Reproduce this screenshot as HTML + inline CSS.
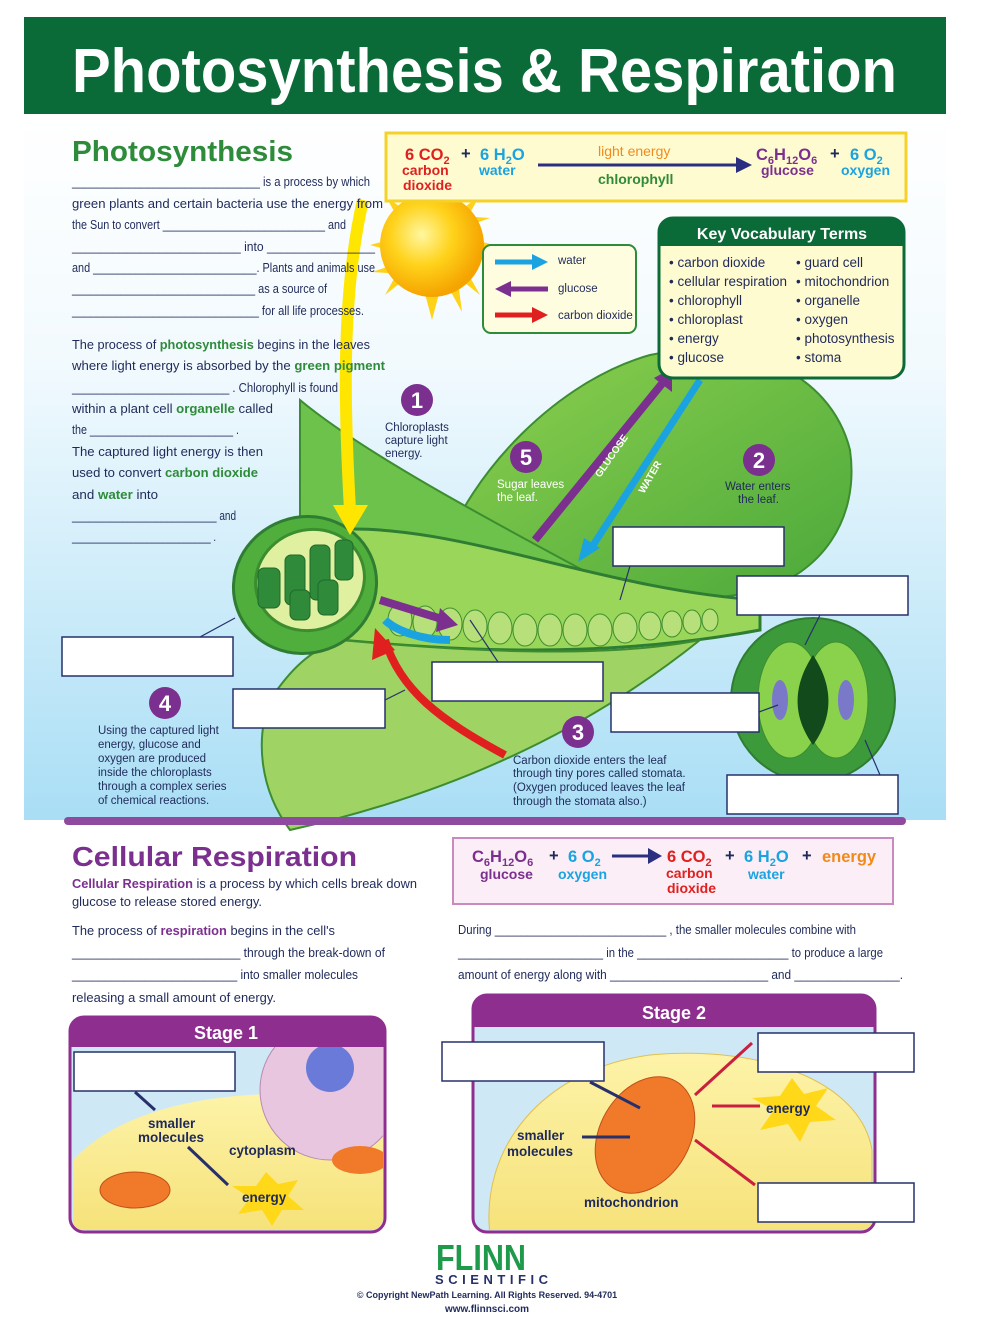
<!DOCTYPE html>
<html><head><meta charset="utf-8"><style>
body{margin:0;width:1002px;height:1340px;background:#fff;overflow:hidden;font-family:"Liberation Sans",sans-serif}
svg{display:block}
text{font-family:"Liberation Sans",sans-serif}
</style></head><body>
<svg width="1002" height="1340" viewBox="0 0 1002 1340">
<defs>
<linearGradient id="sky" x1="0" y1="0" x2="0" y2="1">
<stop offset="0" stop-color="#fff"/><stop offset="0.35" stop-color="#f2fafe"/><stop offset="1" stop-color="#a9def5"/></linearGradient>
<radialGradient id="sun" cx="0.4" cy="0.4" r="0.6"><stop offset="0" stop-color="#fff7a0"/><stop offset="0.5" stop-color="#ffd21a"/><stop offset="1" stop-color="#f5a300"/></radialGradient>
<linearGradient id="leafA" x1="0" y1="0" x2="1" y2="1"><stop offset="0" stop-color="#8fd14f"/><stop offset="1" stop-color="#4aa83a"/></linearGradient>
<linearGradient id="cyto" x1="0" y1="0" x2="0" y2="1"><stop offset="0" stop-color="#fdf3a8"/><stop offset="1" stop-color="#f6e27a"/></linearGradient>
<clipPath id="c1"><rect x="72" y="1019" width="311" height="211" rx="12"/></clipPath>
<clipPath id="c2"><rect x="475" y="997" width="398" height="233" rx="12"/></clipPath>
</defs>
<rect x="24" y="114" width="922" height="706" fill="url(#sky)"/>
<rect x="24" y="17" width="922" height="97" fill="#0b6b38"/>
<text x="72" y="92" fill="#fff" font-size="62" font-weight="bold" font-family="DejaVu Sans" textLength="825" lengthAdjust="spacingAndGlyphs">Photosynthesis &amp; Respiration</text>

<!-- sun -->
<g fill="#ffd21a">
<polygon points="432,170 440,200 424,200"/><polygon points="370,245 400,237 400,253"/><polygon points="494,245 464,237 464,253"/>
<polygon points="432,320 440,290 424,290"/><polygon points="385,195 410,215 400,222"/><polygon points="480,295 455,275 465,268"/>
<polygon points="385,295 410,275 400,268"/><polygon points="480,195 455,215 465,222"/>
<polygon points="405,180 420,208 408,210"/><polygon points="462,312 446,283 458,281"/><polygon points="372,272 402,262 404,274"/><polygon points="490,218 462,228 460,216"/>
</g>
<circle cx="432" cy="245" r="52" fill="url(#sun)"/>

<!-- back leaf -->
<path d="M440,560 C470,470 560,380 650,355 C740,335 830,370 850,450 C860,520 820,575 760,590 C680,610 560,600 440,560Z" fill="url(#leafA)" stroke="#3c8d2f" stroke-width="2"/>
<path d="M300,400 C360,450 470,510 620,590 L560,610 C470,600 360,560 300,530Z" fill="#6cc24a" stroke="#3c8d2f" stroke-width="2"/>
<path d="M330,530 C450,520 600,590 760,600 L760,630 C600,660 450,650 340,640Z" fill="#9ad65a" stroke="#2e7d32" stroke-width="3"/>
<g fill="#b7e07a" stroke="#3f8f2f">
<ellipse cx="400" cy="620" rx="12" ry="16"/><ellipse cx="425" cy="622" rx="12" ry="16"/><ellipse cx="450" cy="624" rx="12" ry="16"/><ellipse cx="475" cy="626" rx="12" ry="16"/><ellipse cx="500" cy="628" rx="12" ry="16"/><ellipse cx="525" cy="630" rx="12" ry="16"/><ellipse cx="550" cy="630" rx="12" ry="16"/><ellipse cx="575" cy="630" rx="12" ry="16"/><ellipse cx="600" cy="630" rx="12" ry="16"/><ellipse cx="625" cy="628" rx="12" ry="15"/><ellipse cx="650" cy="626" rx="11" ry="14"/><ellipse cx="672" cy="624" rx="10" ry="13"/><ellipse cx="692" cy="622" rx="9" ry="12"/><ellipse cx="710" cy="620" rx="8" ry="11"/>
</g>
<path d="M340,640 C450,650 600,660 700,640 C600,720 470,790 290,830 C260,790 255,740 270,700 C290,670 310,650 340,640Z" fill="#9fd464" stroke="#3c8d2f" stroke-width="2"/>
<ellipse cx="305" cy="585" rx="72" ry="68" fill="#4fae3c" stroke="#2e7d32" stroke-width="3" transform="rotate(-20 305 585)"/>
<ellipse cx="310" cy="580" rx="55" ry="50" fill="#dff0a0" stroke="#3c8d2f" stroke-width="3" transform="rotate(-20 310 580)"/>
<g fill="#2f8a3a" stroke="#1f6a2a">
<rect x="258" y="568" width="22" height="40" rx="6"/><rect x="285" y="555" width="20" height="50" rx="6"/><rect x="310" y="545" width="20" height="55" rx="6"/><rect x="335" y="540" width="18" height="40" rx="6"/><rect x="290" y="590" width="20" height="30" rx="6"/><rect x="318" y="580" width="20" height="35" rx="6"/>
</g>
<circle cx="813" cy="700" r="82" fill="#3c9a3a" stroke="#2e7d32" stroke-width="2"/>
<ellipse cx="790" cy="700" rx="32" ry="58" fill="#8ad14c" stroke="#3c8d2f"/>
<ellipse cx="836" cy="700" rx="32" ry="58" fill="#8ad14c" stroke="#3c8d2f"/>
<ellipse cx="780" cy="700" rx="8" ry="20" fill="#7a78c8"/><ellipse cx="846" cy="700" rx="8" ry="20" fill="#7a78c8"/>
<path d="M813,655 C790,690 795,720 813,745 C831,720 836,690 813,655Z" fill="#134a1c"/>

<path d="M363,200 C340,300 345,420 350,510" stroke="#ffe600" stroke-width="12" fill="none"/>
<polygon points="333,505 368,505 350,535" fill="#ffe600"/>
<path d="M535,540 L665,380" stroke="#7b2f8f" stroke-width="8" fill="none"/><polygon points="672,368 654,378 672,392" fill="#7b2f8f"/>
<path d="M700,380 L590,550" stroke="#1aa3e0" stroke-width="7" fill="none"/><polygon points="578,562 584,538 600,548" fill="#1aa3e0"/>
<path d="M380,600 L445,620" stroke="#7b2f8f" stroke-width="8"/><polygon points="458,625 440,608 436,632" fill="#7b2f8f"/>
<path d="M450,640 C420,640 395,630 385,620" stroke="#1aa3e0" stroke-width="8" fill="none"/>
<path d="M505,755 C440,720 400,690 385,640" stroke="#e0201e" stroke-width="8" fill="none"/><polygon points="375,628 372,660 395,650" fill="#e0201e"/>

<g fill="#7b2f8f"><circle cx="417" cy="400" r="16"/><circle cx="526" cy="457" r="16"/><circle cx="759" cy="460" r="16"/><circle cx="165" cy="703" r="16"/><circle cx="578" cy="732" r="16"/></g>
<g fill="#fff" font-size="22" font-weight="bold" text-anchor="middle"><text x="417" y="408">1</text><text x="526" y="465">5</text><text x="759" y="468">2</text><text x="165" y="711">4</text><text x="578" y="740">3</text></g>
<g fill="#1f2a5a" font-size="11.5">
<text x="385" y="431">Chloroplasts</text><text x="385" y="444">capture light</text><text x="385" y="457">energy.</text>
<text x="497" y="488" fill="#fff">Sugar leaves</text><text x="497" y="501" fill="#fff">the leaf.</text>
<text x="725" y="490">Water enters</text><text x="738" y="503">the leaf.</text>
<text x="98" y="734">Using the captured light</text><text x="98" y="748">energy, glucose and</text><text x="98" y="762">oxygen are produced</text><text x="98" y="776">inside the chloroplasts</text><text x="98" y="790">through a complex series</text><text x="98" y="804">of chemical reactions.</text>
<text x="513" y="764">Carbon dioxide enters the leaf</text><text x="513" y="777">through tiny pores called stomata.</text><text x="513" y="791">(Oxygen produced leaves the leaf</text><text x="513" y="805">through the stomata also.)</text>
</g>
<text x="600" y="478" fill="#fff" font-size="10" font-weight="bold" transform="rotate(-55 600 478)">GLUCOSE</text>
<text x="644" y="494" fill="#fff" font-size="10" font-weight="bold" transform="rotate(-60 644 494)">WATER</text>

<g fill="#fff" stroke="#27306b" stroke-width="1.5">
<rect x="613" y="527" width="171" height="39"/><rect x="737" y="576" width="171" height="39"/><rect x="62" y="637" width="171" height="39"/><rect x="432" y="662" width="171" height="39"/><rect x="233" y="689" width="152" height="39"/><rect x="611" y="693" width="148" height="39"/><rect x="727" y="775" width="171" height="39"/>
</g>
<g stroke="#27306b" stroke-width="1.2"><line x1="200" y1="637" x2="235" y2="618"/><line x1="630" y1="566" x2="620" y2="600"/><line x1="498" y1="662" x2="470" y2="620"/><line x1="385" y1="700" x2="405" y2="690"/><line x1="759" y1="712" x2="778" y2="705"/><line x1="820" y1="615" x2="805" y2="645"/><line x1="880" y1="775" x2="865" y2="740"/></g>

<rect x="483" y="245" width="153" height="88" rx="8" fill="#fffde0" stroke="#2e8b3a" stroke-width="2"/>
<g stroke-width="5"><line x1="495" y1="262" x2="535" y2="262" stroke="#1aa3e0"/><line x1="505" y1="289" x2="548" y2="289" stroke="#7b2f8f"/><line x1="495" y1="315" x2="535" y2="315" stroke="#e0201e"/></g>
<polygon points="548,262 532,254 532,270" fill="#1aa3e0"/><polygon points="495,289 511,281 511,297" fill="#7b2f8f"/><polygon points="548,315 532,307 532,323" fill="#e0201e"/>
<g font-size="11.5" fill="#1f2a5a"><text x="558" y="264">water</text><text x="558" y="292">glucose</text><text x="558" y="319">carbon dioxide</text></g>

<rect x="386" y="133" width="520" height="68" fill="#fffbd0" stroke="#f5d22a" stroke-width="3"/>
<g font-size="16.5" font-weight="bold">
<text x="405" y="160" fill="#e0201e">6 CO<tspan font-size="11" dy="4">2</tspan></text>
<text x="461" y="159" fill="#1f2a5a">+</text>
<text x="480" y="160" fill="#1aa3e0">6 H<tspan font-size="11" dy="4">2</tspan><tspan dy="-4">O</tspan></text>
<text x="756" y="160" fill="#7b2f8f">C<tspan font-size="11" dy="4">6</tspan><tspan dy="-4">H</tspan><tspan font-size="11" dy="4">12</tspan><tspan dy="-4">O</tspan><tspan font-size="11" dy="4">6</tspan></text>
<text x="830" y="159" fill="#1f2a5a">+</text>
<text x="850" y="160" fill="#1aa3e0">6 O<tspan font-size="11" dy="4">2</tspan></text>
</g>
<g font-size="14" font-weight="bold">
<text x="402" y="175" fill="#e0201e">carbon</text><text x="403" y="190" fill="#e0201e">dioxide</text>
<text x="479" y="175" fill="#1aa3e0">water</text>
<text x="598" y="156" fill="#f28a1a" font-weight="normal">light energy</text>
<text x="598" y="184" fill="#2e8b3a">chlorophyll</text>
<text x="761" y="175" fill="#7b2f8f">glucose</text><text x="841" y="175" fill="#1aa3e0">oxygen</text>
</g>
<line x1="538" y1="165" x2="740" y2="165" stroke="#2a2f80" stroke-width="3"/><polygon points="752,165 736,157 736,173" fill="#2a2f80"/>

<rect x="659" y="218" width="245" height="160" rx="14" fill="#fffbd0" stroke="#0b6b38" stroke-width="3"/>
<path d="M659,246 L659,232 Q659,218 673,218 L890,218 Q904,218 904,232 L904,246Z" fill="#0b6b38"/>
<text x="782" y="239" text-anchor="middle" fill="#fff" font-size="16" font-weight="bold">Key Vocabulary Terms</text>
<g font-size="13.5" fill="#1f2a5a">
<text x="669" y="267">• carbon dioxide</text><text x="669" y="286">• cellular respiration</text><text x="669" y="305">• chlorophyll</text><text x="669" y="324">• chloroplast</text><text x="669" y="343">• energy</text><text x="669" y="362">• glucose</text>
<text x="796" y="267">• guard cell</text><text x="796" y="286">• mitochondrion</text><text x="796" y="305">• organelle</text><text x="796" y="324">• oxygen</text><text x="796" y="343">• photosynthesis</text><text x="796" y="362">• stoma</text>
</g>

<text x="72" y="161" fill="#2e8b3a" font-size="29" font-weight="bold" textLength="221" lengthAdjust="spacingAndGlyphs">Photosynthesis</text>
<g font-size="12.5" fill="#1f2a5a" lengthAdjust="spacingAndGlyphs">
<text x="72" y="186" textLength="298" lengthAdjust="spacingAndGlyphs">______________________________ is a process by which</text>
<text x="72" y="208" textLength="311" lengthAdjust="spacingAndGlyphs">green plants and certain bacteria use the energy from</text>
<text x="72" y="229" textLength="274" lengthAdjust="spacingAndGlyphs">the Sun to convert ___________________________ and</text>
<text x="72" y="251" textLength="303" lengthAdjust="spacingAndGlyphs">_________________________ into ________________</text>
<text x="72" y="272" textLength="303" lengthAdjust="spacingAndGlyphs">and ___________________________. Plants and animals use</text>
<text x="72" y="293" textLength="255" lengthAdjust="spacingAndGlyphs">______________________________ as a source of</text>
<text x="72" y="315" textLength="292" lengthAdjust="spacingAndGlyphs">______________________________ for all life processes.</text>
<text x="72" y="349" textLength="298" lengthAdjust="spacingAndGlyphs">The process of <tspan fill="#2e8b3a" font-weight="bold">photosynthesis</tspan> begins in the leaves</text>
<text x="72" y="370" textLength="313" lengthAdjust="spacingAndGlyphs">where light energy is absorbed by the <tspan fill="#2e8b3a" font-weight="bold">green pigment</tspan></text>
<text x="72" y="392" textLength="266" lengthAdjust="spacingAndGlyphs">_________________________ . Chlorophyll is found</text>
<text x="72" y="413" textLength="201" lengthAdjust="spacingAndGlyphs">within a plant cell <tspan fill="#2e8b3a" font-weight="bold">organelle</tspan> called</text>
<text x="72" y="434" textLength="167" lengthAdjust="spacingAndGlyphs">the ________________________ .</text>
<text x="72" y="456" textLength="191" lengthAdjust="spacingAndGlyphs">The captured light energy is then</text>
<text x="72" y="477" textLength="186" lengthAdjust="spacingAndGlyphs">used to convert <tspan fill="#2e8b3a" font-weight="bold">carbon dioxide</tspan></text>
<text x="72" y="499" textLength="86" lengthAdjust="spacingAndGlyphs">and <tspan fill="#2e8b3a" font-weight="bold">water</tspan> into</text>
<text x="72" y="520" textLength="164" lengthAdjust="spacingAndGlyphs">__________________________ and</text>
<text x="72" y="541" textLength="144" lengthAdjust="spacingAndGlyphs">__________________________ .</text>
</g>

<rect x="64" y="817" width="842" height="8" rx="4" fill="#8e4a9e"/>

<text x="72" y="866" fill="#7b2f8f" font-size="28" font-weight="bold" textLength="285" lengthAdjust="spacingAndGlyphs">Cellular Respiration</text>
<g font-size="12.5" fill="#1f2a5a">
<text x="72" y="888" textLength="345" lengthAdjust="spacingAndGlyphs"><tspan fill="#7b2f8f" font-weight="bold">Cellular Respiration</tspan> is a process by which cells break down</text>
<text x="72" y="906" textLength="190" lengthAdjust="spacingAndGlyphs">glucose to release stored energy.</text>
<text x="72" y="935" textLength="263" lengthAdjust="spacingAndGlyphs">The process of <tspan fill="#7b2f8f" font-weight="bold">respiration</tspan> begins in the cell's</text>
<text x="72" y="957" textLength="313" lengthAdjust="spacingAndGlyphs">_________________________ through the break-down of</text>
<text x="72" y="979" textLength="286" lengthAdjust="spacingAndGlyphs">_________________________ into smaller molecules</text>
<text x="72" y="1002" textLength="204" lengthAdjust="spacingAndGlyphs">releasing a small amount of energy.</text>
<text x="458" y="934" textLength="398" lengthAdjust="spacingAndGlyphs">During ___________________________ , the smaller molecules combine with</text>
<text x="458" y="957" textLength="425" lengthAdjust="spacingAndGlyphs">_______________________ in the ________________________ to produce a large</text>
<text x="458" y="979" textLength="445" lengthAdjust="spacingAndGlyphs">amount of energy along with ________________________ and ________________.</text>
</g>
<rect x="453" y="838" width="440" height="66" fill="#fbeef6" stroke="#c98ac0" stroke-width="2"/>
<g font-size="16.5" font-weight="bold">
<text x="472" y="862" fill="#7b2f8f">C<tspan font-size="11" dy="4">6</tspan><tspan dy="-4">H</tspan><tspan font-size="11" dy="4">12</tspan><tspan dy="-4">O</tspan><tspan font-size="11" dy="4">6</tspan></text>
<text x="549" y="861" fill="#1f2a5a">+</text>
<text x="568" y="862" fill="#1aa3e0">6 O<tspan font-size="11" dy="4">2</tspan></text>
<text x="667" y="862" fill="#e0201e">6 CO<tspan font-size="11" dy="4">2</tspan></text>
<text x="725" y="861" fill="#1f2a5a">+</text>
<text x="744" y="862" fill="#1aa3e0">6 H<tspan font-size="11" dy="4">2</tspan><tspan dy="-4">O</tspan></text>
<text x="802" y="861" fill="#1f2a5a">+</text>
<text x="822" y="862" fill="#f28a1a">energy</text>
</g>
<line x1="612" y1="856" x2="650" y2="856" stroke="#2a2f80" stroke-width="3"/><polygon points="662,856 648,848 648,864" fill="#2a2f80"/>
<g font-size="14" font-weight="bold">
<text x="480" y="879" fill="#7b2f8f">glucose</text><text x="558" y="879" fill="#1aa3e0">oxygen</text>
<text x="666" y="878" fill="#e0201e">carbon</text><text x="667" y="893" fill="#e0201e">dioxide</text><text x="748" y="879" fill="#1aa3e0">water</text>
</g>

<!-- Stage 1 -->
<rect x="70" y="1017" width="315" height="215" rx="14" fill="#cfe8f6"/>
<g clip-path="url(#c1)">
<path d="M73,1230 L73,1160 C120,1110 220,1080 383,1100 L383,1230Z" fill="url(#cyto)"/>
<circle cx="330" cy="1090" r="70" fill="#e8c6e0" stroke="#b98ab0"/>
<circle cx="330" cy="1068" r="24" fill="#6a7ad8"/>
<ellipse cx="135" cy="1190" rx="35" ry="18" fill="#f07a2a" stroke="#c0501a"/>
<ellipse cx="360" cy="1160" rx="28" ry="14" fill="#f07a2a"/>
</g>
<rect x="70" y="1017" width="315" height="215" rx="14" fill="none" stroke="#8e2f8f" stroke-width="3"/>
<path d="M70,1047 L70,1031 Q70,1017 84,1017 L371,1017 Q385,1017 385,1031 L385,1047Z" fill="#8e2f8f"/>
<text x="226" y="1039" text-anchor="middle" fill="#fff" font-size="18" font-weight="bold">Stage 1</text>
<polygon points="266,1172 278,1184 298,1180 288,1196 304,1210 282,1210 272,1226 262,1210 238,1214 250,1198 232,1186 256,1186" fill="#ffd81a"/>
<g font-size="13.5" font-weight="bold" fill="#1f2a5a"><text x="148" y="1128">smaller</text><text x="138" y="1142">molecules</text><text x="229" y="1155">cytoplasm</text><text x="242" y="1202">energy</text></g>
<rect x="74" y="1052" width="161" height="39" fill="#fff" stroke="#27306b" stroke-width="1.5"/>
<line x1="135" y1="1092" x2="155" y2="1110" stroke="#27306b" stroke-width="3"/>
<line x1="188" y1="1147" x2="228" y2="1185" stroke="#27306b" stroke-width="3"/>

<!-- Stage 2 -->
<rect x="473" y="995" width="402" height="237" rx="14" fill="#cfe8f6"/>
<g clip-path="url(#c2)">
<path d="M490,1235 C480,1150 540,1070 650,1055 C760,1045 860,1080 872,1150 L872,1235Z" fill="url(#cyto)" stroke="#e0c050"/>
<ellipse cx="645" cy="1135" rx="45" ry="62" fill="#f07a2a" stroke="#c0501a" transform="rotate(30 645 1135)"/>
</g>
<rect x="473" y="995" width="402" height="237" rx="14" fill="none" stroke="#8e2f8f" stroke-width="3"/>
<path d="M473,1027 L473,1009 Q473,995 487,995 L861,995 Q875,995 875,1009 L875,1027Z" fill="#8e2f8f"/>
<text x="674" y="1019" text-anchor="middle" fill="#fff" font-size="18" font-weight="bold">Stage 2</text>
<polygon points="792,1078 804,1094 828,1088 816,1106 836,1120 810,1122 800,1142 788,1124 760,1130 774,1110 752,1098 780,1096" fill="#ffd81a"/>
<g font-size="13.5" font-weight="bold" fill="#1f2a5a"><text x="517" y="1140">smaller</text><text x="507" y="1156">molecules</text><text x="584" y="1207">mitochondrion</text><text x="766" y="1113">energy</text></g>
<g stroke="#c8203e" stroke-width="3"><line x1="695" y1="1095" x2="752" y2="1043"/><line x1="712" y1="1106" x2="760" y2="1106"/><line x1="695" y1="1140" x2="755" y2="1185"/></g>
<g stroke="#27306b" stroke-width="3"><line x1="590" y1="1082" x2="640" y2="1108"/><line x1="582" y1="1137" x2="630" y2="1137"/></g>
<g fill="#fff" stroke="#27306b" stroke-width="1.5"><rect x="442" y="1042" width="162" height="39"/><rect x="758" y="1033" width="156" height="39"/><rect x="758" y="1183" width="156" height="39"/></g>

<text x="436" y="1270" fill="#1e9a4a" font-size="36" font-weight="bold" textLength="90" lengthAdjust="spacingAndGlyphs">FLINN</text>
<text x="435" y="1284" fill="#27306b" font-size="13" font-weight="bold" textLength="113" lengthAdjust="spacing">SCIENTIFIC</text>
<text x="487" y="1298" text-anchor="middle" fill="#1f2a5a" font-size="9" font-weight="bold">© Copyright NewPath Learning. All Rights Reserved. 94-4701</text>
<text x="487" y="1312" text-anchor="middle" fill="#1f2a5a" font-size="10" font-weight="bold">www.flinnsci.com</text>
</svg>
</body></html>
